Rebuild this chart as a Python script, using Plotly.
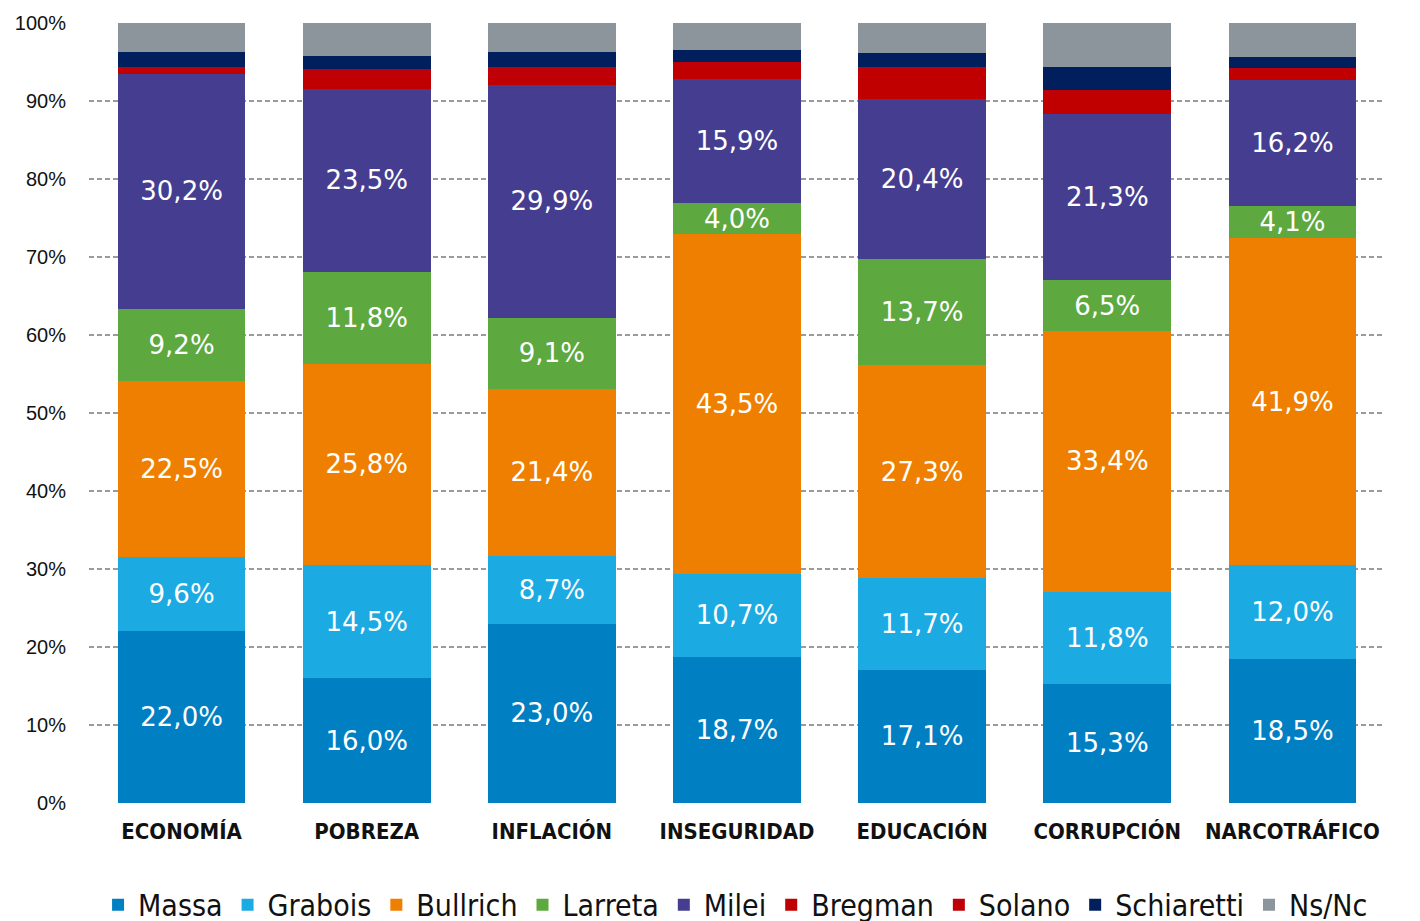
import plotly.graph_objects as go

categories = ["ECONOMÍA", "POBREZA", "INFLACIÓN", "INSEGURIDAD", "EDUCACIÓN", "CORRUPCIÓN", "NARCOTRÁFICO"]

massa      = [22.0, 16.0, 23.0, 18.7, 17.1, 15.3, 18.5]
grabois    = [9.6, 14.5, 8.7, 10.7, 11.7, 11.8, 12.0]
bullrich   = [22.5, 25.8, 21.4, 43.5, 27.3, 33.4, 41.9]
larreta    = [9.2, 11.8, 9.1, 4.0, 13.7, 6.5, 4.1]
milei      = [30.2, 23.5, 29.9, 15.9, 20.4, 21.3, 16.2]
bregman    = [0.6, 1.5, 0.9, 1.7, 4.0, 2.7, 1.1]
solano     = [0.2, 1.0, 1.4, 0.5, 0.2, 0.4, 0.4]
schiaretti = [2.0, 1.7, 1.9, 1.6, 1.8, 3.0, 1.5]
nsnc       = [3.7, 4.2, 3.7, 3.4, 3.8, 5.6, 4.3]

tick_values = [0, 10, 20, 30, 40, 50, 60, 70, 80, 90, 100]
tick_labels = ["0%", "10%", "20%", "30%", "40%", "50%", "60%", "70%", "80%", "90%", "100%"]

series = [
    ("Massa", massa, "#0080C3", True),
    ("Grabois", grabois, "#1CAAE3", True),
    ("Bullrich", bullrich, "#EE7F00", True),
    ("Larreta", larreta, "#5DA83F", True),
    ("Milei", milei, "#453E90", True),
    ("Bregman", bregman, "#C00000", False),
    ("Solano", solano, "#BE0008", False),
    ("Schiaretti", schiaretti, "#001F5C", False),
    ("Ns/Nc", nsnc, "#8B959B", False),
]

narrow = "DejaVu Sans Condensed, Roboto, sans-serif"

fig = go.Figure()
for name, vals, color, labeled in series:
    fig.add_trace(go.Bar(
        name=name, x=categories, y=vals,
        marker=dict(color=color, line=dict(width=0)),
        texttemplate="%{y:.1f}%" if labeled else None,
        textposition="inside" if labeled else "none",
        insidetextanchor="middle",
        textangle=0,
        constraintext="none",
        textfont=dict(family="DejaVu Sans", size=26, color="white"),
        hoverinfo="skip",
    ))

fig.update_layout(
    barmode="stack",
    bargap=0.31,
    separators=",.",
    width=1420, height=921,
    margin=dict(l=81, r=43, t=15, b=126, autoexpand=False),
    plot_bgcolor="white", paper_bgcolor="white",
    uniformtext=dict(minsize=26, mode="show"),
    showlegend=True,
    legend=dict(
        orientation="h", x=0.007, xanchor="left", y=-0.097, yanchor="top",
        font=dict(family=narrow, size=30, color="#111111"),
        itemwidth=30, tracegroupgap=0, traceorder="normal",
    ),
    xaxis=dict(
        tickfont=dict(family=narrow, size=22, color="#111111", weight="bold"),
        showgrid=False, zeroline=False, showline=False, ticks="",
        ticklabelstandoff=13,
    ),
    yaxis=dict(
        range=[0, 100], tickvals=tick_values, ticktext=tick_labels,
        tickfont=dict(family="Liberation Sans", size=20, color="#111111"),
        showgrid=True, gridcolor="#9A9A9A", griddash="5px,3px", gridwidth=1.5,
        zeroline=False, showline=False, ticks="", ticklabelstandoff=22,
    ),
)

fig.write_html("out.html")
